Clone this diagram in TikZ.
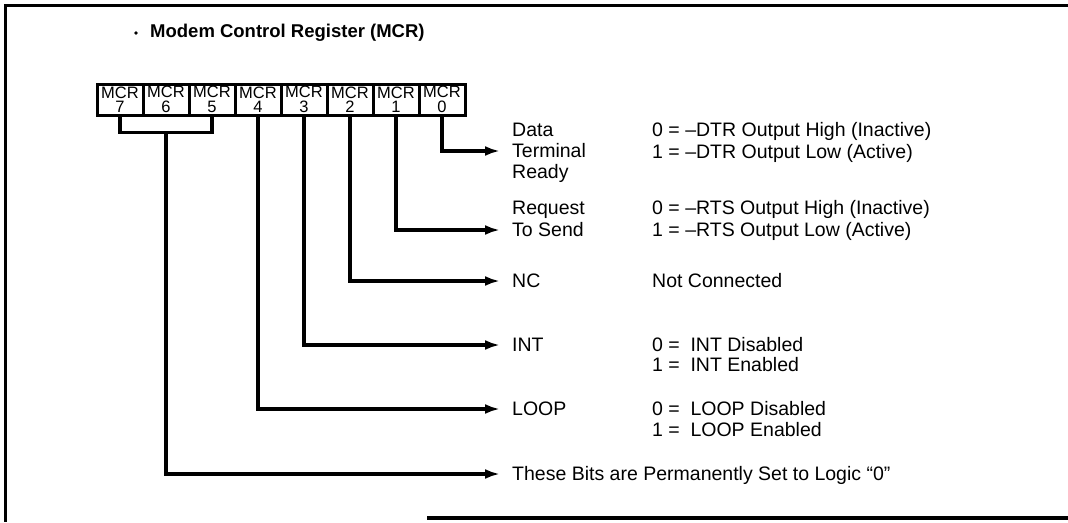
\documentclass[tikz,border=0pt]{standalone}
\usepackage{fontspec}
\setmainfont{Liberation Sans}
\usetikzlibrary{arrows.meta}
\begin{document}
\begin{tikzpicture}[x=1pt,y=-1pt,
  ln/.style={line width=3.2pt},
  arr/.style={line width=3.2pt,-{Latex[length=15pt,width=10pt]},shorten >=12pt},
  reg/.style={draw,line width=3pt,minimum width=46pt,minimum height=31pt,inner sep=0pt,align=center,font=\fontsize{16.5}{14.5}\selectfont},
  lbl/.style={anchor=west,inner sep=0pt,font=\fontsize{19.5}{21}\selectfont,text height=15pt,text depth=3pt},
]
\useasboundingbox (0,0) rectangle (1068,522);
% frame
\draw[line width=3pt] (1068,5) -- (5,5) -- (5,522);
\draw[line width=3.2pt] (427,518) -- (1068,518);
% title
\fill (136,33) circle (1.8pt);
\node[anchor=west,inner sep=0pt,font=\bfseries\fontsize{18.5}{20}\selectfont] (title) at (150,33) {Modem Control Register (MCR)};
% register
\foreach \i in {7,...,0} {
  \node[reg] (b\i) at ({120+46*(7-\i)},99.5) {MCR\\\i};
}
% left labels
\node[lbl] (data) at (512,130) {Data};
\node[lbl] (term) at (512,151) {Terminal};
\node[lbl] (ready) at (512,172) {Ready};
\node[lbl] (req) at (512,208) {Request};
\node[lbl] (tosend) at (512,230) {To Send};
\node[lbl] (nc) at (512,281) {NC};
\node[lbl] (int) at (512,345) {INT};
\node[lbl] (loop) at (512,409) {LOOP};
\node[lbl] (tb) at (512,474) {These Bits are Permanently Set to Logic ``0''};
% right descriptions
\node[lbl] (d0) at (652,130) {0 = –DTR Output High (Inactive)};
\node[lbl] (d1) at (652,152) {1 = –DTR Output Low (Active)};
\node[lbl] (r0) at (652,208) {0 = –RTS Output High (Inactive)};
\node[lbl] (r1) at (652,230) {1 = –RTS Output Low (Active)};
\node[lbl] (ncd) at (652,281) {Not Connected};
\node[lbl] (i0) at (652,345) {0 =\hspace{0.55em}INT Disabled};
\node[lbl] (i1) at (652,365) {1 =\hspace{0.55em}INT Enabled};
\node[lbl] (l0) at (652,409) {0 =\hspace{0.55em}LOOP Disabled};
\node[lbl] (l1) at (652,430) {1 =\hspace{0.55em}LOOP Enabled};
% connectors
\draw[arr] (b0.south) |- (term.west);
\draw[arr] (b1.south) |- (tosend.west);
\draw[arr] (b2.south) |- (nc.west);
\draw[arr] (b3.south) |- (int.west);
\draw[arr] (b4.south) |- (loop.west);
\draw[ln] (b7.south) -- ++(0,16) coordinate (bl) -| (b5.south);
\draw[arr] (b6.south |- bl) |- (tb.west);
\end{tikzpicture}
\end{document}
